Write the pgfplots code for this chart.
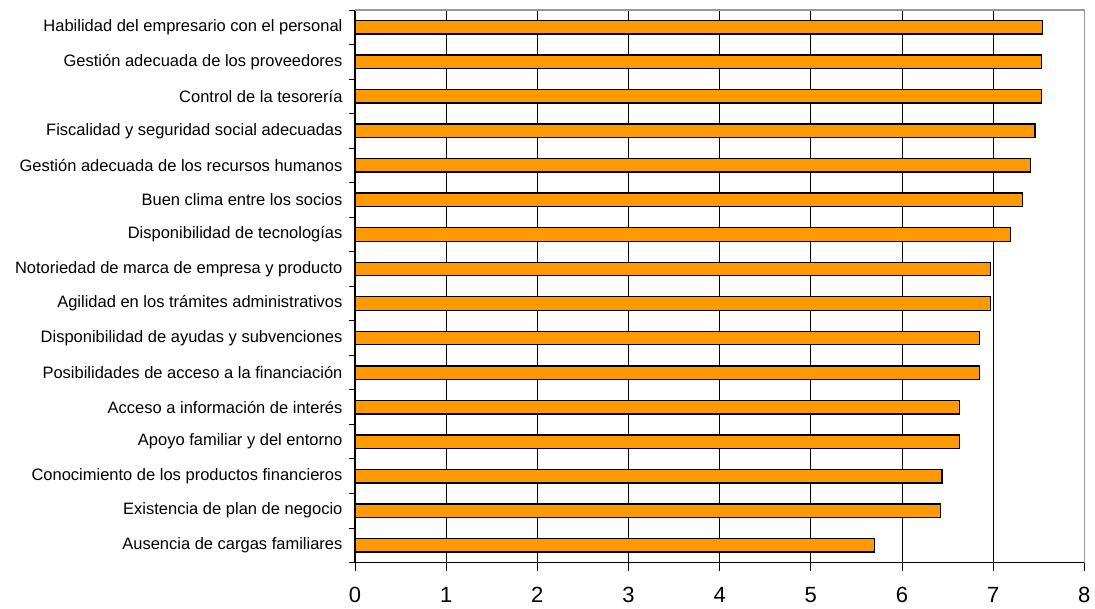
\documentclass[border=0pt]{standalone}
\usepackage{pgfplots}
\pgfplotsset{compat=1.18}
\usepackage{fontspec}
\setmainfont{Liberation Sans}
\definecolor{barorange}{HTML}{FF9900}
\begin{document}
\begin{tikzpicture}
\begin{axis}[
  at={(0,0)}, anchor=south west,
  scale only axis,
  width=729.3pt, height=552.5pt,
  xmin=0, xmax=8, ymin=0.5, ymax=16.5,
  xbar, bar width=13.5pt,
  axis line style={draw=none},
  xtick={0,...,8},
  ytick={1,...,16},
  yticklabels={Ausencia de cargas familiares,
    Existencia de plan de negocio,
    Conocimiento de los productos financieros,
    Apoyo familiar y del entorno,
    Acceso a información de interés\ ,
    Posibilidades de acceso a la financiación,
    Disponibilidad de ayudas y subvenciones,
    Agilidad en los trámites administrativos,
    Notoriedad de marca de empresa y producto,
    Disponibilidad de tecnologías,
    Buen clima entre los socios,
    Gestión adecuada de los recursos humanos,
    Fiscalidad y seguridad social adecuadas,
    Control de la tesorería,
    Gestión adecuada de los proveedores,
    Habilidad del empresario con el personal},
  major y tick style={draw=none},
  y tick label style={font=\fontsize{16.5}{16.5}\selectfont, xshift=-1pt},
  x tick label style={font=\fontsize{22}{22}\selectfont, yshift=-13pt},
  /pgf/number format/assume math mode=true,
  xmajorgrids,
  grid style={black, line width=0.9pt},
  major x tick style={black, line width=0.9pt},
  major tick length=8pt,
  xtick pos=bottom, ytick pos=left,
  tick align=outside,
  clip=false,
]
\addplot[fill=barorange, draw=black, line width=1.4pt] coordinates {
  (5.70,1) (6.42,2) (6.44,3) (6.63,4) (6.63,5) (6.85,6) (6.85,7) (6.97,8)
  (6.97,9) (7.19,10) (7.32,11) (7.41,12) (7.46,13) (7.53,14) (7.53,15) (7.54,16)};
\draw[gray!80, line width=1.4pt] (axis cs:0,16.5) -- (axis cs:8,16.5) -- (axis cs:8,0.5);
\draw[black, line width=1pt] (axis cs:0,16.5) -- (axis cs:0,0.5) -- (axis cs:8,0.5);
\end{axis}
\foreach \k in {0,...,16} \draw[black, line width=0.9pt] (0,\k*34.53125pt) -- ++(-6pt,0);
\pgfresetboundingbox
\path (-355pt,-45.5pt) rectangle (740pt,562.5pt);
\end{tikzpicture}
\end{document}
